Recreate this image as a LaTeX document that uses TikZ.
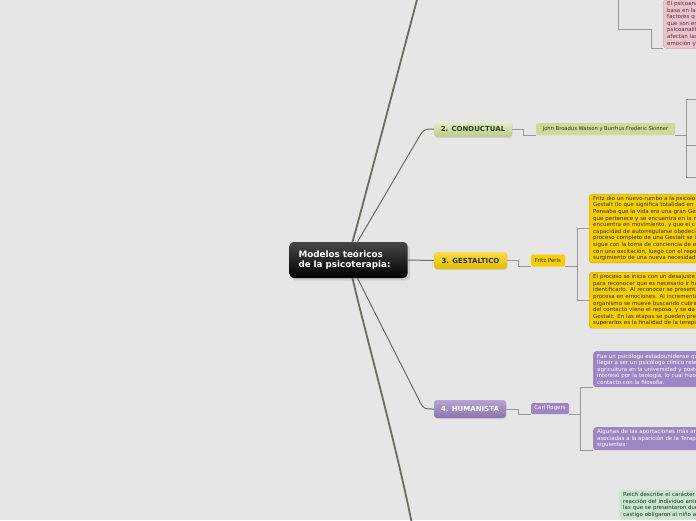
\documentclass[tikz,border=0pt]{standalone}
\usepackage{fontspec}
\setmainfont{DejaVu Sans}
\usetikzlibrary{shadows,calc}
\definecolor{paper}{RGB}{230,230,230}
\definecolor{stem}{RGB}{108,108,92}
\definecolor{twig}{RGB}{152,152,152}
\definecolor{olive}{RGB}{206,218,150}
\definecolor{leafink}{RGB}{38,66,28}
\definecolor{sun}{RGB}{246,206,0}
\definecolor{sunedge}{RGB}{196,160,20}
\definecolor{lilac}{RGB}{158,133,196}
\definecolor{rose}{RGB}{232,197,205}
\definecolor{roseedge}{RGB}{208,164,174}
\definecolor{roseink}{RGB}{105,38,52}
\definecolor{mint}{RGB}{199,230,204}
\definecolor{ink}{RGB}{45,45,45}
\tikzset{
  topic/.style={rounded corners=3pt,minimum height=17pt,inner sep=1pt,
    font=\fontsize{7}{8}\selectfont\bfseries,
    drop shadow={opacity=0.2,shadow xshift=0.6pt,shadow yshift=-0.8pt}},
  sub/.style={fill=#1,rounded corners=1.5pt,minimum height=12pt,inner sep=1pt,
    font=\fontsize{5.2}{6}\selectfont},
  sub/.default=olive,
  note/.style={fill=#1,rounded corners=3pt,text width=150pt,align=left,
    inner xsep=4pt,inner ysep=2pt,font=\fontsize{5.5}{6.6}\selectfont,anchor=north west},
  note/.default=sun,
  stemline/.style={draw=stem,line width=1.8pt},
  branch/.style={draw=stem,line width=1pt},
  twigline/.style={draw=twig,line width=0.8pt},
}

\begin{document}
\begin{tikzpicture}[x=1pt,y=-1pt]
  \fill[paper] (0,0) rectangle (696,520);
  \useasboundingbox (0,0) rectangle (696,520);
  \clip (0,0) rectangle (696,520);

  % central topic
  \node[rounded corners=4pt,top color=black!72,bottom color=black,text=white,
    font=\fontsize{8.8}{10}\selectfont\bfseries,align=left,text width=100pt,
    inner xsep=9pt,minimum height=36pt,drop shadow={opacity=0.25}] (core) at (348.5,260)
    {Modelos teóricos\\de la psicoterapia:};

  % main topics
  \node[topic,top color=olive!45!white,bottom color=olive!92!black,text=leafink,minimum width=78pt,minimum height=16pt] (cond) at (473,129) {2. CONDUCTUAL};
  \node[topic,top color=sun!70!white,bottom color=sun!92!black,text=ink,minimum width=73pt] (gest) at (470.5,260.5) {3. GESTALTICO};
  \node[topic,top color=lilac!75!white,bottom color=lilac!88!black,text=white,minimum width=72pt,minimum height=18pt] (hum) at (470,409) {4. HUMANISTA};

  \coordinate (upper) at (418,-4);
  \coordinate (lower) at (412,524);
  \draw[stemline] ([xshift=4pt]core.north) .. controls (363,205) and (397,75) .. (upper);
  \draw[stemline] ([xshift=4pt]core.south) .. controls (362,320) and (395,440) .. (lower);
  \draw[branch] ([xshift=9pt]core.north) -- (419,137) .. controls (424,129) .. (cond.west);
  \draw[branch] (core.east) -- (gest.west);
  \draw[branch] ([xshift=9pt]core.south) -- (420,402) .. controls (424,409) .. (hum.west);

  % authors
  \node[sub,text=ink,minimum width=139pt] (watson) at (605.5,129) {John Broadus Watson y Burrhus Frederic Skinner};
  \node[sub=sun,text=ink,minimum width=34pt,font=\fontsize{5.4}{6}\selectfont] (fritz) at (548,260.5) {Fritz Perls};
  \node[sub=lilac,text=white,minimum width=38pt,minimum height=11pt,font=\fontsize{5.4}{6}\selectfont] (carl) at (550,408.5) {Carl Rogers};

  \draw[twigline] (cond.east) -- ++(11,0) |- (watson.south west);
  \draw[twigline] (gest.east) -- ++(11,0) |- (fritz.south west);
  \draw[twigline] (hum.east) -- ++(12,0) |- (carl.south west);

  % notes
  \node[note=rose,draw=roseedge,text=roseink,anchor=south west] (psico) at (663,48.5)
    {El psicoana\\basa en la\\factores q\\que son en\\psicoanalít\\afectan las\\emoción y};
  \node[note,draw=sunedge,text=ink,minimum height=68pt] (yel1) at (589,194)
    {Fritz dio un nuevo rumbo a la psicolo\\Gestalt (lo que significa totalidad en\\Pensaba que la vida era una gran Ges\\que pertenece y se encuentra en la m\\encuentra en movimiento, y que el c\\capacidad de autorregularse obedeci\\proceso completo de una Gestalt se i\\sigue con la toma de conciencia de e\\con una excitación, luego con el repo\\surgimiento de una nueva necesidad};
  \node[note,draw=sunedge,text=ink,minimum height=56pt] (yel2) at (589,272)
    {El proceso se inicia con un desajuste\\para reconocer que es necesario ir ha\\identificarlo. Al reconocer se presenta\\procesa en emociones. Al incrementa\\organismo se mueve buscando cubrir\\del contacto viene el reposo, y se da\\Gestalt. En las etapas se pueden pres\\superarlos es la finalidad de la terapi};
  \node[note=lilac,text=white,minimum height=36pt] (pur1) at (593,351)
    {Fue un psicólogo estadounidense qu\\llegar a ser un psicólogo clínico rele\\agricultura en la universidad y poste\\interesó por la teología, lo cual hizo\\contacto con la filosofía.};
  \node[note=lilac,text=white,minimum height=23pt] (pur2) at (593,427)
    {Algunas de las aportaciones más im\\asociadas a la aparición de la Terapi\\siguientes:};
  \node[note=mint,text=ink] (reich) at (619,490)
    {Reich describe el carácter\\reacción del individuo ante\\las que se presentaron dur\\castigo obligaron al niño a};

  \coordinate (ptop) at (618,-4);
  \draw[twigline] (ptop) |- (651,29) |- (psico.south west);
  \draw[twigline] (watson.south east) -- ++(11,0) coordinate (wfork);
  \foreach \y in {99,145,177}{
    \coordinate (w\y) at (700,\y);
    \draw[twigline] (wfork) |- (w\y);
  }
  \draw[twigline] (fritz.south east) -- ++(12,0) coordinate (ffork);
  \draw[twigline] (ffork) |- (yel1.west) (ffork) |- (yel2.west);
  \draw[twigline] (carl.south east) -- ++(11,0) coordinate (cfork);
  \draw[twigline] (cfork) |- (pur1.south west) (cfork) |- (pur2.south west);
\end{tikzpicture}
\end{document}
